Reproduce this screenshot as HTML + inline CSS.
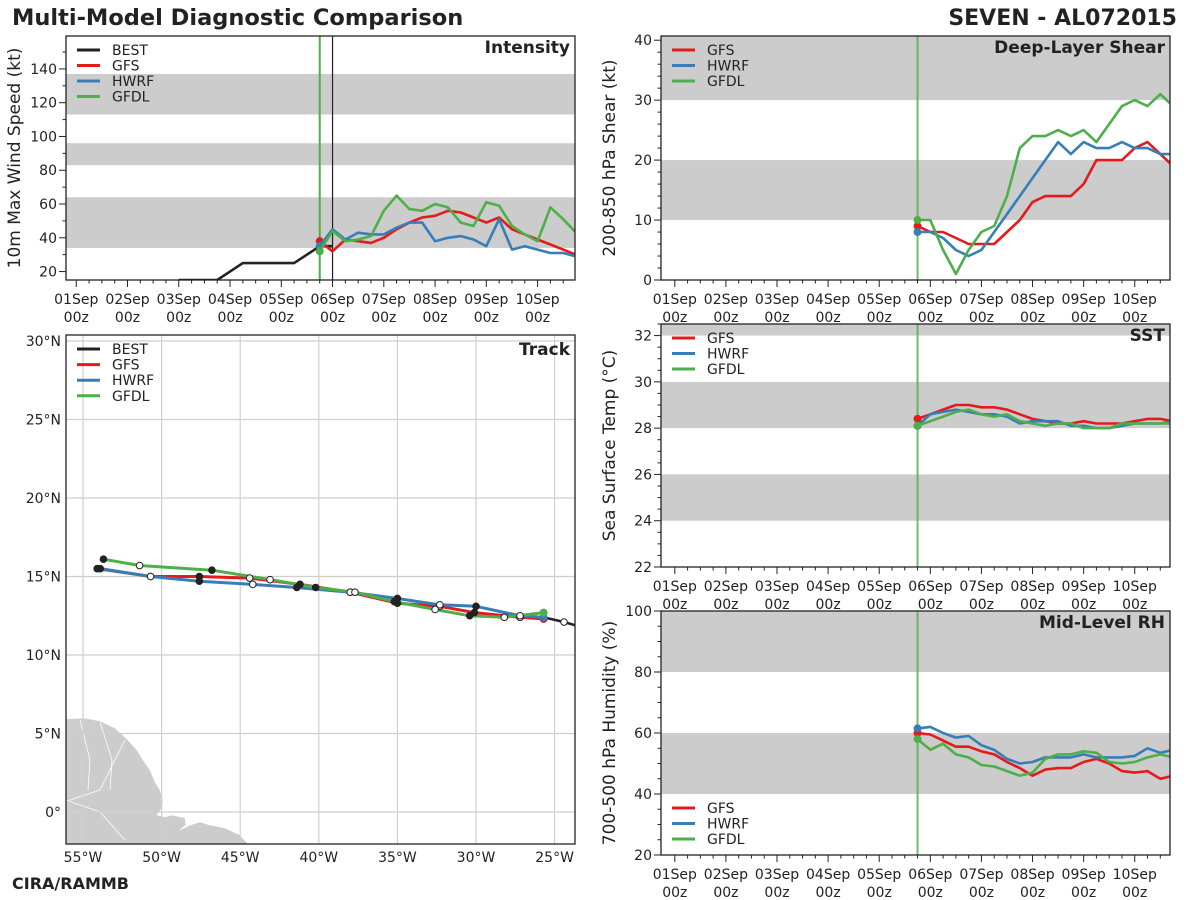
<!DOCTYPE html>
<html><head><meta charset="utf-8"><style>
body{margin:0;background:#fff;}
svg{display:block;font-family:"DejaVu Sans","Liberation Sans",sans-serif;}
</style></head><body>
<svg id="s" width="1200" height="900" viewBox="0 0 1200 900">
<text x="12" y="25" font-size="22.5" font-weight="bold" fill="#222">Multi-Model Diagnostic Comparison</text>
<text x="1177" y="25" font-size="22" font-weight="bold" fill="#222" text-anchor="end">SEVEN - AL072015</text>
<text x="12" y="889" font-size="16" font-weight="bold" fill="#222">CIRA/RAMMB</text>
</svg>
<script>
const NS='http://www.w3.org/2000/svg';
const svg=document.getElementById('s');
const COL={BEST:'#222',GFS:'#e41a1c',HWRF:'#377eb8',GFDL:'#4daf4a'};
const dayLabels=['01Sep','02Sep','03Sep','04Sep','05Sep','06Sep','07Sep','08Sep','09Sep','10Sep'];
const modelStart=4.75, stepDays=0.25;
// Intensity (kt)
const bestDays=[2.0,2.25,2.5,2.75,3.0,3.25,3.5,3.75,4.0,4.25,4.5,4.75,5.0];
const bestWind=[15,15,15,15,20,25,25,25,25,25,30,35,35];
const gfsWind=[38,32,39,38,37,40,45,49,52,53,56,55,52,49,52,45,42,39,36,33,30];
const hwrfWind=[35,45,39,43,42,42,46,49,49,38,40,41,39,35,51,33,35,33,31,31,29];
const gfdlWind=[32,44,38,39,41,56,65,57,56,60,58,49,47,61,59,47,42,38,58,51,43];
// Shear (kt)
const gfsShear=[9,8,8,7,6,6,6,8,10,13,14,14,14,16,20,20,20,22,23,21,19];
const hwrfShear=[8,8,7,5,4,5,8,11,14,17,20,23,21,23,22,22,23,22,22,21,21];
const gfdlShear=[10,10,5,1,5,8,9,14,22,24,24,25,24,25,23,26,29,30,29,31,29];
// SST (C)
const gfsSst=[28.4,28.6,28.8,29.0,29.0,28.9,28.9,28.8,28.6,28.4,28.3,28.2,28.2,28.3,28.2,28.2,28.2,28.3,28.4,28.4,28.3];
const hwrfSst=[28.1,28.6,28.7,28.8,28.7,28.6,28.6,28.5,28.2,28.3,28.3,28.3,28.1,28.1,28.0,28.0,28.1,28.2,28.2,28.2,28.3];
const gfdlSst=[28.1,28.3,28.5,28.7,28.8,28.6,28.5,28.6,28.3,28.2,28.1,28.2,28.2,28.0,28.0,28.0,28.2,28.2,28.2,28.2,28.2];
// RH (%)
const gfsRh=[60,59.5,57.5,55.5,55.5,54,53,50.5,48.5,46,48,48.5,48.5,50.5,51.5,50,47.5,47,47.5,45,46];
const hwrfRh=[61.5,62,60,58.5,59,56,54.5,51.5,50,50.5,52,52,52,53,52,52,52,52.5,55,53.5,54.5];
const gfdlRh=[58,54.5,56.5,53,52,49.5,49,47.5,46,47,51.5,53,53,54,53.5,50.5,50,50.5,52,53,52];
// Track (lon, lat) every 12h
const gfsLon=[-25.7,-27.2,-30.1,-32.3,-35.0,-38.0,-41.2,-44.4,-47.6,-50.7,-54.1];
const gfsLat=[12.3,12.4,12.7,13.1,13.3,14.0,14.5,14.9,15.0,15.0,15.5];
const hwrfLon=[-25.7,-27.2,-30.0,-32.3,-35.0,-38.0,-41.4,-44.2,-47.6,-50.7,-53.9];
const hwrfLat=[12.4,12.5,13.1,13.2,13.6,14.0,14.3,14.5,14.7,15.0,15.5];
const gfdlLon=[-25.7,-28.2,-30.4,-32.6,-35.2,-37.7,-40.2,-43.1,-46.8,-51.4,-53.7];
const gfdlLat=[12.7,12.4,12.5,12.9,13.4,14.0,14.3,14.8,15.4,15.7,16.1];
const bestLon=[-25.7,-24.4,-23.0];
const bestLat=[12.4,12.1,11.7];

function el(tag,attrs,parent){const e=document.createElementNS(NS,tag);for(const k in attrs)e.setAttribute(k,attrs[k]);(parent||svg).appendChild(e);return e;}
function txt(x,y,s,size,attrs,parent){const t=el('text',Object.assign({x:x,y:y,'font-size':size,fill:'#222'},attrs||{}),parent);t.textContent=s;return t;}

function timePanel(o){
  const g=el('g',{});
  
  
  const X=d=>o.x0+(d-o.d0)*(o.x1-o.x0)/(o.d1-o.d0);
  const Y=v=>o.y1-(v-o.v0)*(o.y1-o.y0)/(o.v1-o.v0);
  const clipId='c'+o.name;
  const cp=el('clipPath',{id:clipId},g);el('rect',{x:o.x0,y:o.y0,width:o.x1-o.x0,height:o.y1-o.y0},cp);
  o.bands.forEach(b=>{const r=el('rect',{x:o.x0,y:Y(Math.min(b[1],o.v1)),width:o.x1-o.x0,height:Y(b[0])-Y(Math.min(b[1],o.v1)),fill:'#cccccc'},g);
    });
  const pg=el('g',{'clip-path':'url(#'+clipId+')'},g);
  const vl=el('line',{x1:X(modelStart),x2:X(modelStart),y1:o.y0,y2:o.y1,stroke:'#4daf4a','stroke-width':2,'stroke-opacity':o.name==='intensity'?1:0.8},pg);
  
  if(o.black){const bl=el('line',{x1:X(5),x2:X(5),y1:o.y0,y2:o.y1,stroke:'#222','stroke-width':1.2},pg);
    }
  o.series.forEach(s=>{
    const days=s.days||s.vals.map((v,i)=>modelStart+i*stepDays);
    const pts=s.vals.map((v,i)=>X(days[i]).toFixed(1)+','+Y(v).toFixed(1)).join(' ');
    const p=el('polyline',{points:pts,fill:'none',stroke:COL[s.k],'stroke-width':2.6,'stroke-linejoin':'round'},pg);
    
    
    if(!s.days){const c=el('circle',{cx:X(days[0]),cy:Y(s.vals[0]),r:4,fill:COL[s.k]},pg);
      }
  });
  el('rect',{x:o.x0,y:o.y0,width:o.x1-o.x0,height:o.y1-o.y0,fill:'none',stroke:'#222','stroke-width':1.3},g);
  for(let q=0;q<=40;q++){const d=q*0.25;const x=X(d);if(x<o.x0||x>o.x1)continue;
    const maj=q%4===0;el('line',{x1:x,x2:x,y1:o.y1,y2:o.y1+(maj?7:3.5),stroke:'#222','stroke-width':1},g);
    if(maj&&q/4<dayLabels.length){const a=txt(x,o.y1+24,dayLabels[q/4],14,{'text-anchor':'middle'},g);
      
      txt(x,o.y1+42,'00z',14,{'text-anchor':'middle'},g);}
  }
  for(let v=Math.ceil(o.v0/o.minor)*o.minor;v<=o.v1+1e-9;v+=o.minor){const y=Y(v);
    const maj=Math.abs(v/o.major-Math.round(v/o.major))<1e-6;
    el('line',{x1:o.x0,x2:o.x0-(maj?7:3.5),y1:y,y2:y,stroke:'#222','stroke-width':1},g);
    if(maj){const t=txt(o.x0-9,y+5,String(Math.round(v)),14,{'text-anchor':'end'},g);
      }
  }
  const yt=txt(0,0,o.ylabel,17,{'text-anchor':'middle',transform:'translate('+(o.x0-46)+','+((o.y0+o.y1)/2)+') rotate(-90)'},g);
  
  const ti=txt(o.x1-5,o.y0+17,o.title,17,{'text-anchor':'end','font-weight':'bold'},g);
  
  const lg=el('g',{},g);
  o.legend.forEach((k,i)=>{const y=o.legY+i*15.5;
    el('line',{x1:o.x0+11,x2:o.x0+34,y1:y,y2:y,stroke:COL[k],'stroke-width':3},lg);
    const t=txt(o.x0+46,y+5,k,14,{},lg);});
}

timePanel({name:'intensity',x0:66,x1:575,y0:36,y1:280,d0:-0.2,d1:9.73,v0:15,v1:159.5,major:20,minor:10,
  bands:[[34,64],[83,96],[113,137]],black:true,ylabel:'10m Max Wind Speed (kt)',title:'Intensity',legY:50,
  legend:['BEST','GFS','HWRF','GFDL'],
  series:[{k:'BEST',vals:bestWind,days:bestDays},{k:'GFS',vals:gfsWind},{k:'HWRF',vals:hwrfWind},{k:'GFDL',vals:gfdlWind}]});
timePanel({name:'shear',x0:661,x1:1170,y0:36,y1:280,d0:-0.27,d1:9.69,v0:0,v1:40.7,major:10,minor:2,
  bands:[[10,20],[30,41]],ylabel:'200-850 hPa Shear (kt)',title:'Deep-Layer Shear',legY:50,
  legend:['GFS','HWRF','GFDL'],
  series:[{k:'GFS',vals:gfsShear},{k:'HWRF',vals:hwrfShear},{k:'GFDL',vals:gfdlShear}]});
timePanel({name:'sst',x0:661,x1:1170,y0:324,y1:567,d0:-0.27,d1:9.69,v0:22,v1:32.5,major:2,minor:0.5,
  bands:[[24,26],[28,30],[32,33]],ylabel:'Sea Surface Temp (°C)',title:'SST',legY:338,
  legend:['GFS','HWRF','GFDL'],
  series:[{k:'GFS',vals:gfsSst},{k:'HWRF',vals:hwrfSst},{k:'GFDL',vals:gfdlSst}]});
timePanel({name:'rh',x0:661,x1:1170,y0:611,y1:855,d0:-0.27,d1:9.69,v0:20,v1:100,major:20,minor:5,
  bands:[[40,60],[80,100]],ylabel:'700-500 hPa Humidity (%)',title:'Mid-Level RH',legY:808,
  legend:['GFS','HWRF','GFDL'],
  series:[{k:'GFS',vals:gfsRh},{k:'HWRF',vals:hwrfRh},{k:'GFDL',vals:gfdlRh}]});

(function(){
  const x0=66,x1=575,y0=335,y1=844;
  const LX=lon=>83+(lon+55)*15.72, LY=lat=>812-lat*15.7;
  const g=el('g',{});
  const cp=el('clipPath',{id:'ctrack'},g);el('rect',{x:x0,y:y0,width:x1-x0,height:y1-y0},cp);
  const pg=el('g',{'clip-path':'url(#ctrack)'},g);
  const land=el('polygon',{points:'66,719 85,718 100,721 115,728 128,740 137,750 143,760 150,770 155,782 160,790 163,800 162,808 157,815 165,817 172,815 185,818 186,825 180,830 190,825 200,822 210,825 225,828 240,835 248,844 66,844',fill:'#cccccc',stroke:'#fff','stroke-width':0.6},pg);
  
  el('path',{d:'M80,720 L90,760 L88,790 M100,722 L112,760 L110,790 M125,740 L100,790 L70,800 M66,800 L100,812 L125,840',fill:'none',stroke:'#fff','stroke-width':0.8},pg);
  for(let lon=-55;lon<=-25;lon+=5){el('line',{x1:LX(lon),x2:LX(lon),y1:y0,y2:y1,stroke:'#cfcfcf','stroke-width':1.2},pg);}
  for(let lat=0;lat<=30;lat+=5){el('line',{x1:x0,x2:x1,y1:LY(lat),y2:LY(lat),stroke:'#cfcfcf','stroke-width':1.2},pg);}
  const tracks=[['GFS',gfsLon,gfsLat],['HWRF',hwrfLon,hwrfLat],['GFDL',gfdlLon,gfdlLat]];
  tracks.forEach(t=>{const p=el('polyline',{points:t[1].map((v,i)=>LX(v).toFixed(1)+','+LY(t[2][i]).toFixed(1)).join(' '),fill:'none',stroke:COL[t[0]],'stroke-width':3,'stroke-linejoin':'round'},pg);
    });
  const bp=el('polyline',{points:bestLon.map((v,i)=>LX(v).toFixed(1)+','+LY(bestLat[i]).toFixed(1)).join(' '),fill:'none',stroke:'#222','stroke-width':2.5},pg);
  
  tracks.forEach(t=>{t[1].forEach((v,i)=>{if(i===0)return;const c=el('circle',{cx:LX(v),cy:LY(t[2][i]),r:3.3,fill:i%2===0?'#222':'#fff',stroke:'#222','stroke-width':1},pg);
    });});
  tracks.forEach(t=>{const c=el('circle',{cx:LX(t[1][0]),cy:LY(t[2][0]),r:4,fill:COL[t[0]]},pg);});
  const bc=el('circle',{cx:LX(bestLon[1]),cy:LY(bestLat[1]),r:3.3,fill:'#fff',stroke:'#222','stroke-width':1},pg);
  
  el('rect',{x:x0,y:y0,width:x1-x0,height:y1-y0,fill:'none',stroke:'#222','stroke-width':1.3},g);
  for(let lon=-55;lon<=-25;lon+=5){const t=txt(LX(lon),862,(-lon)+'°W',14,{'text-anchor':'middle'},g);}
  for(let lat=0;lat<=30;lat+=5){const t=txt(61,LY(lat)+5,lat===0?'0°':lat+'°N',14,{'text-anchor':'end'},g);}
  const ti=txt(x1-5,y0+20,'Track',17,{'text-anchor':'end','font-weight':'bold'},g);
  const lg=el('g',{},g);
  ['BEST','GFS','HWRF','GFDL'].forEach((k,i)=>{const y=349+i*15.6;el('line',{x1:77,x2:100,y1:y,y2:y,stroke:COL[k],'stroke-width':3},lg);
    const t=txt(112,y+5,k,14,{},lg);});
})();
</script>
</body></html>
